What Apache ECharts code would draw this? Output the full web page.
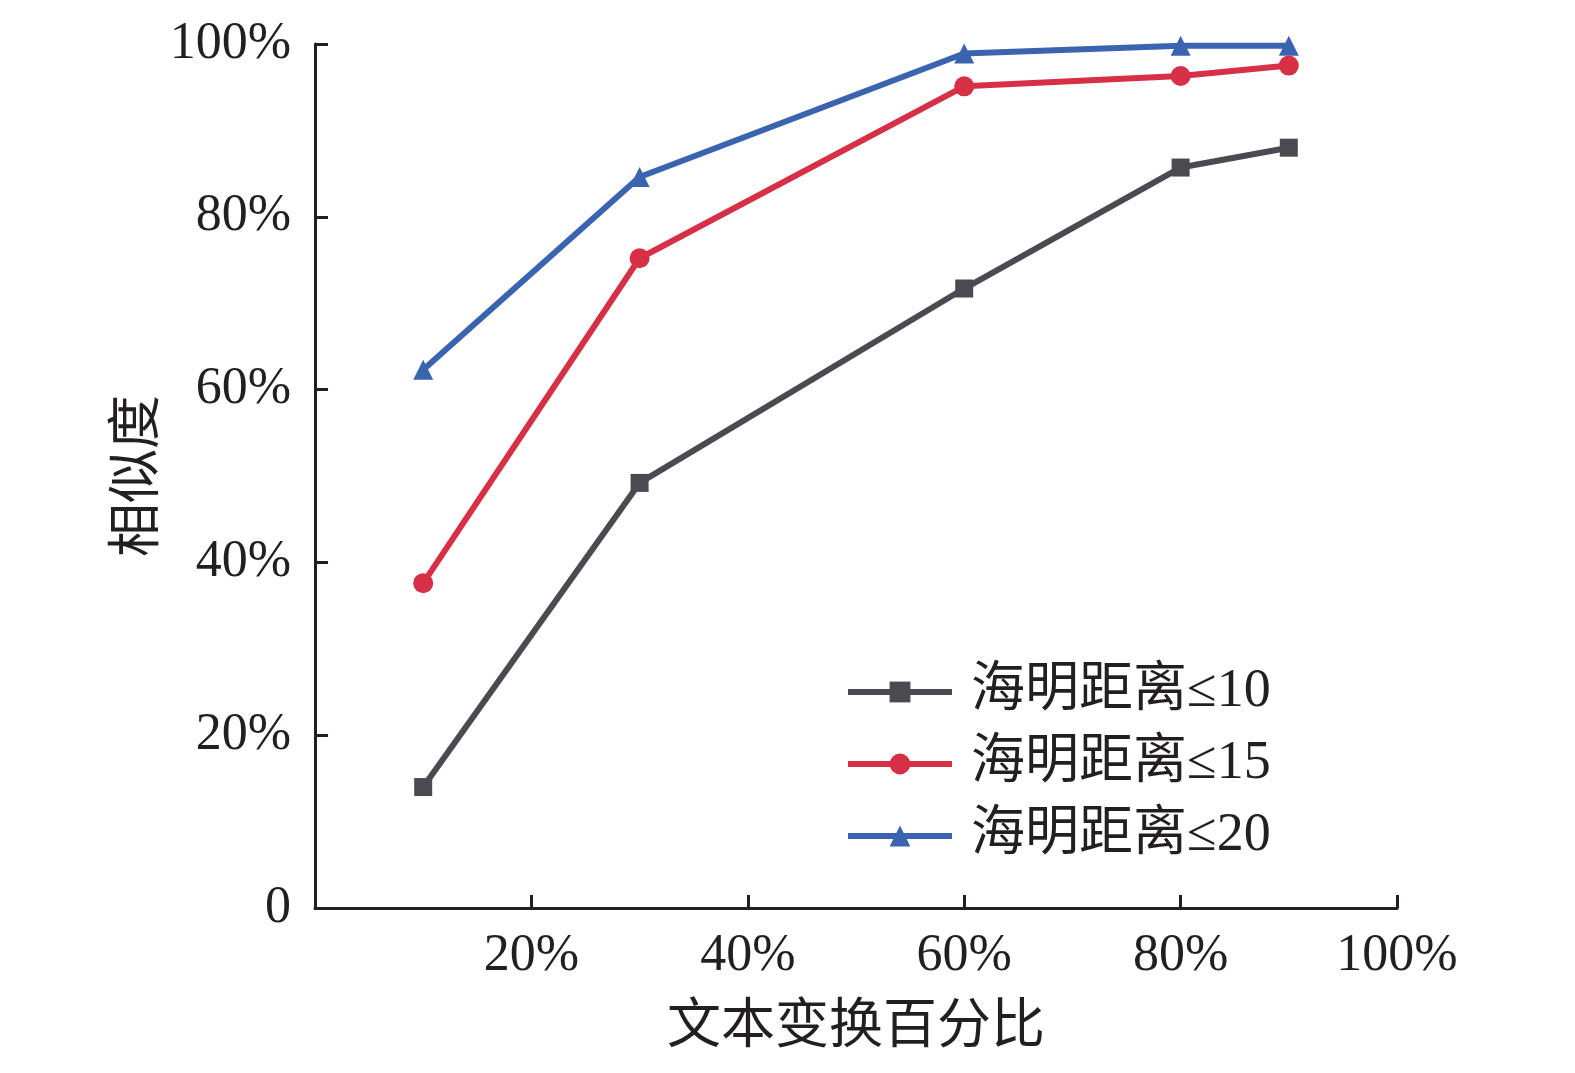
<!DOCTYPE html>
<html lang="zh">

<head>
  <meta charset="UTF-8">
  <title>相似度</title>
  <style>
    html, body { margin: 0; padding: 0; background: #fff; }
  </style>
</head>

<body>

  <div id="main" style="width: 1575px; height:1073px;"></div>
  <script src="https://cdn.jsdelivr.net/npm/echarts@6/dist/echarts.min.js"></script>
  <script type="text/javascript">
    // 文本变换百分比 (%)
    var xValues = [10, 30, 60, 80, 90];
    // 相似度 (%)
    var hamming10 = [14.0, 49.2, 71.7, 85.7, 88.0];
    var hamming15 = [37.6, 75.2, 95.1, 96.3, 97.5];
    var hamming20 = [62.3, 84.6, 98.9, 99.8, 99.8];
    var seriesNames = ['海明距离≤10', '海明距离≤15', '海明距离≤20'];

    function pairs(ys) {
      return xValues.map(function (x, i) { return [x, ys[i]]; });
    }

    var serifFont = '"Liberation Serif", "Noto Sans CJK SC", serif';
    var axisColor = '#231f20';

    var myChart = echarts.init(document.getElementById('main'));

    var option = {
      backgroundColor: '#fff',
      animation: false,
      grid: {
        left: 315,
        right: 178,
        top: 44,
        bottom: 165
      },
      legend: {
        data: seriesNames,
        orient: 'vertical',
        left: 840,
        top: 660,
        itemWidth: 104,
        itemHeight: 26,
        itemGap: 18,
        lineStyle: { width: 6 },
        textStyle: {
          fontFamily: serifFont,
          fontSize: 54,
          color: '#231f20',
          padding: [0, 0, 0, 14]
        }
      },
      xAxis: {
        type: 'value',
        min: 0,
        max: 100,
        interval: 20,
        name: '文本变换百分比',
        nameLocation: 'middle',
        nameGap: 94,
        nameTextStyle: {
          fontFamily: serifFont,
          fontSize: 54,
          color: '#231f20'
        },
        axisLine: { show: true, lineStyle: { color: axisColor, width: 3 } },
        axisTick: { show: true, inside: true, length: 13, lineStyle: { color: axisColor, width: 3 } },
        splitLine: { show: false },
        axisLabel: {
          margin: 22,
          fontFamily: serifFont,
          fontSize: 52,
          color: '#231f20',
          formatter: function (v) { return v === 0 ? '' : v + '%'; }
        }
      },
      yAxis: {
        type: 'value',
        min: 0,
        max: 100,
        interval: 20,
        name: '相似度',
        nameLocation: 'middle',
        nameGap: 148,
        nameMoveOverlap: false,
        nameRotate: 90,
        nameTextStyle: {
          fontFamily: serifFont,
          fontSize: 54,
          color: '#231f20'
        },
        axisLine: { show: true, lineStyle: { color: axisColor, width: 3 } },
        axisTick: { show: true, inside: true, length: 13, lineStyle: { color: axisColor, width: 3 } },
        splitLine: { show: false },
        axisLabel: {
          margin: 24,
          fontFamily: serifFont,
          fontSize: 52,
          color: '#231f20',
          formatter: function (v) { return v === 0 ? '0' : v + '%'; }
        }
      },
      series: [{
        name: seriesNames[0],
        type: 'line',
        data: pairs(hamming10),
        symbol: 'rect',
        symbolSize: 18,
        lineStyle: { width: 6, color: '#4a4a50' },
        itemStyle: { color: '#4a4a50' }
      }, {
        name: seriesNames[1],
        type: 'line',
        data: pairs(hamming15),
        symbol: 'circle',
        symbolSize: 20,
        lineStyle: { width: 6, color: '#d72f45' },
        itemStyle: { color: '#d72f45' }
      }, {
        name: seriesNames[2],
        type: 'line',
        data: pairs(hamming20),
        symbol: 'triangle',
        symbolSize: 20,
        lineStyle: { width: 6, color: '#3b64b0' },
        itemStyle: { color: '#3b64b0' }
      }]
    };
    myChart.setOption(option);
  </script>
</body>

</html>
